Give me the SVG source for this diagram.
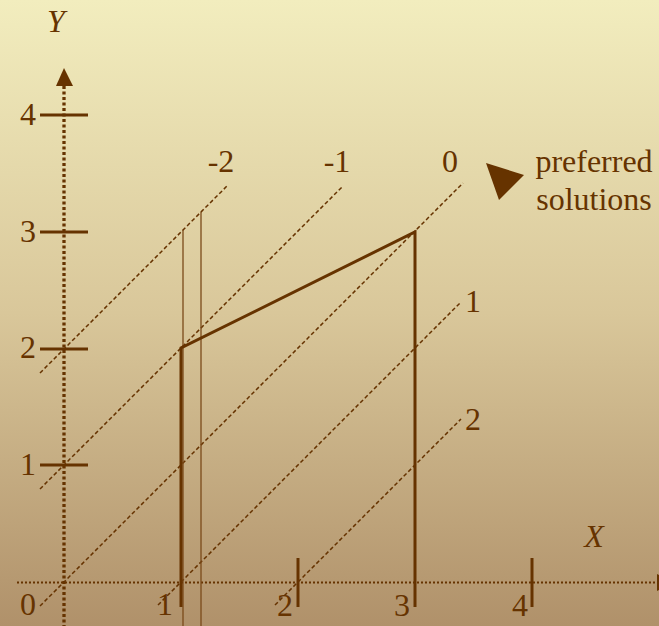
<svg xmlns="http://www.w3.org/2000/svg" width="659" height="626" viewBox="0 0 659 626">
<defs>
<linearGradient id="bg" x1="0" y1="0" x2="0" y2="1">
<stop offset="0" stop-color="#F2EDBE"/>
<stop offset="0.5" stop-color="#D9C79A"/>
<stop offset="1" stop-color="#B0916A"/>
</linearGradient>
<style>
.t{font-family:"Liberation Serif","Times New Roman",serif;font-size:32px;fill:#663300;text-anchor:middle}
.i{font-style:italic}
.thick{stroke:#663300;stroke-width:3;fill:none}
.thin{stroke:#7A4A1A;stroke-width:1.3;fill:none}
.dash{stroke:#663300;stroke-width:1.5;stroke-dasharray:4 2.5;fill:none}
</style>
</defs>
<rect width="659" height="626" fill="url(#bg)"/>
<g id="axes">
<line x1="64" y1="86" x2="64" y2="626" stroke="#663300" stroke-width="3.3" stroke-dasharray="3 2.5"/>
<polygon points="64,68 56,86 73,86" fill="#663300"/>
<line x1="17" y1="582.5" x2="657" y2="582.5" stroke="#663300" stroke-width="2" stroke-dasharray="2 2"/>
<polygon points="657,574 657,591 675,582.5" fill="#663300"/>
<g class="thick">
<line x1="40" y1="115" x2="88" y2="115"/>
<line x1="40" y1="232" x2="88" y2="232"/>
<line x1="40" y1="349" x2="88" y2="349"/>
<line x1="40" y1="465" x2="88" y2="465"/>
<line x1="298" y1="558" x2="298" y2="607"/>
<line x1="532" y1="558" x2="532" y2="607"/>
</g>
</g>
<g id="connectors">
<line class="dash" x1="40" y1="373" x2="228" y2="185"/>
<line class="dash" x1="40" y1="489" x2="343" y2="186"/>
<line class="dash" x1="40" y1="606" x2="463" y2="183"/>
<line class="dash" x1="158" y1="605" x2="461" y2="302"/>
<line class="dash" x1="275" y1="605" x2="461" y2="419"/>
<line class="thin" x1="183" y1="230" x2="183" y2="626"/>
<line class="thin" x1="201" y1="212" x2="201" y2="626"/>
</g>
<g id="region">
<polyline class="thick" points="181,607 181,348 415,232 415,607"/>
</g>
<g id="labels">
<text class="t i" x="56" y="32">Y</text>
<text class="t i" x="594" y="547">X</text>
<text class="t" x="28" y="125">4</text>
<text class="t" x="28" y="242">3</text>
<text class="t" x="28" y="358">2</text>
<text class="t" x="28" y="475">1</text>
<text class="t" x="28" y="615">0</text>
<text class="t" x="165" y="615">1</text>
<text class="t" x="285" y="616">2</text>
<text class="t" x="402" y="616">3</text>
<text class="t" x="520" y="616">4</text>
<text class="t" x="221" y="172">-2</text>
<text class="t" x="337" y="172">-1</text>
<text class="t" x="450" y="172">0</text>
<text class="t" x="473" y="312">1</text>
<text class="t" x="473" y="430">2</text>
</g>
<g id="preferred">
<polygon points="486,163 524,175 499,200" fill="#663300"/>
<text class="t" x="594" y="172">preferred</text>
<text class="t" x="594" y="210">solutions</text>
</g>
</svg>
